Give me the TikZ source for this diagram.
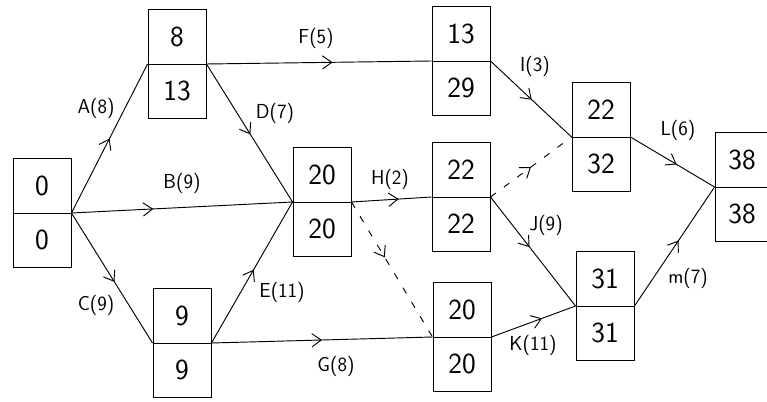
\documentclass[tikz,border=0pt]{standalone}
\usepackage{amsmath,amssymb}
\usepackage{tikz}
\usetikzlibrary{shapes.multipart, arrows.meta, decorations.markings}

% fixed height for each half of an event box
\newcommand{\evpart}[1]{\rule[-0.525cm]{0pt}{1.62cm}#1}

\begin{document}
\begin{tikzpicture}[
    x=0.03cm, y=-0.03cm,
    evbox/.style={rectangle split, rectangle split parts=2, draw, line width=0.8pt,
        minimum width=1.74cm, inner ysep=0pt, font=\sffamily\Huge, anchor=one split},
    act/.style={line width=0.8pt},
    dummy/.style={line width=0.8pt, dash pattern=on 2mm off 3mm},
    midarr/.style={postaction={decorate}, decoration={markings,
        mark=at position #1 with {\arrow[solid]{Straight Barb[length=2.8mm, width=4mm, line width=0.8pt]}}}},
    lbl/.style={font=\sffamily\LARGE}
]
\useasboundingbox (0,0) rectangle (767,402);

% events
\node[evbox] (e1) at (42,213) {\evpart{0}\nodepart{two}\evpart{0}};
\node[evbox] (e2) at (177,64) {\evpart{8}\nodepart{two}\evpart{13}};
\node[evbox] (e3) at (182,343) {\evpart{9}\nodepart{two}\evpart{9}};
\node[evbox] (e4) at (322,202) {\evpart{20}\nodepart{two}\evpart{20}};
\node[evbox] (e5) at (461,61) {\evpart{13}\nodepart{two}\evpart{29}};
\node[evbox] (e6) at (461,197) {\evpart{22}\nodepart{two}\evpart{22}};
\node[evbox] (e7) at (462,337) {\evpart{20}\nodepart{two}\evpart{20}};
\node[evbox] (e8) at (601,137) {\evpart{22}\nodepart{two}\evpart{32}};
\node[evbox] (e9) at (605,306) {\evpart{31}\nodepart{two}\evpart{31}};
\node[evbox, minimum width=2.1cm, text width=1.3cm, align=left] (e10) at (750,187) {\evpart{38}\nodepart{two}\evpart{38}};

% activities
\draw[act, midarr=0.5] (e1.one split east) -- (e2.one split west);
\draw[act, midarr=0.37] (e1.one split east) -- (e4.one split west);
\draw[act, midarr=0.53] (e1.one split east) -- (e3.one split west);
\draw[act, midarr=0.56] (e2.one split east) -- (e5.one split west);
\draw[act, midarr=0.51] (e2.one split east) -- (e4.one split west);
\draw[act, midarr=0.52] (e3.one split east) -- (e4.one split west);
\draw[act, midarr=0.5] (e3.one split east) -- (e7.one split west);
\draw[act, midarr=0.59] (e4.one split east) -- (e6.one split west);
\draw[dummy, midarr=0.41] (e4.one split east) -- (e7.one split west);
\draw[act, midarr=0.51] (e5.one split east) -- (e8.one split west);
\draw[dummy, midarr=0.5] (e6.one split east) -- (e8.one split west);
\draw[act, midarr=0.46] (e6.one split east) -- (e9.one split west);
\draw[act, midarr=0.6] (e7.one split east) -- (e9.one split west);
\draw[act, midarr=0.55] (e8.one split east) -- (e10.one split west);
\draw[act, midarr=0.55] (e9.one split east) -- (e10.one split west);

% activity labels
\node[lbl] (lA) at (96,108) {A(8)};
\node[lbl] (lB) at (182,183) {B(9)};
\node[lbl] (lC) at (96,305) {C(9)};
\node[lbl] (lD) at (275,113) {D(7)};
\node[lbl] (lE) at (282,292) {E(11)};
\node[lbl] (lF) at (316,38) {F(5)};
\node[lbl] (lG) at (336,366) {G(8)};
\node[lbl] (lH) at (390,179) {H(2)};
\node[lbl] (lI) at (535,66) {I(3)};
\node[lbl] (lJ) at (546,225) {J(9)};
\node[lbl] (lK) at (533,345) {K(11)};
\node[lbl] (lL) at (678,130) {L(6)};
\node[lbl] (lM) at (688,278) {m(7)};
\end{tikzpicture}
\end{document}
